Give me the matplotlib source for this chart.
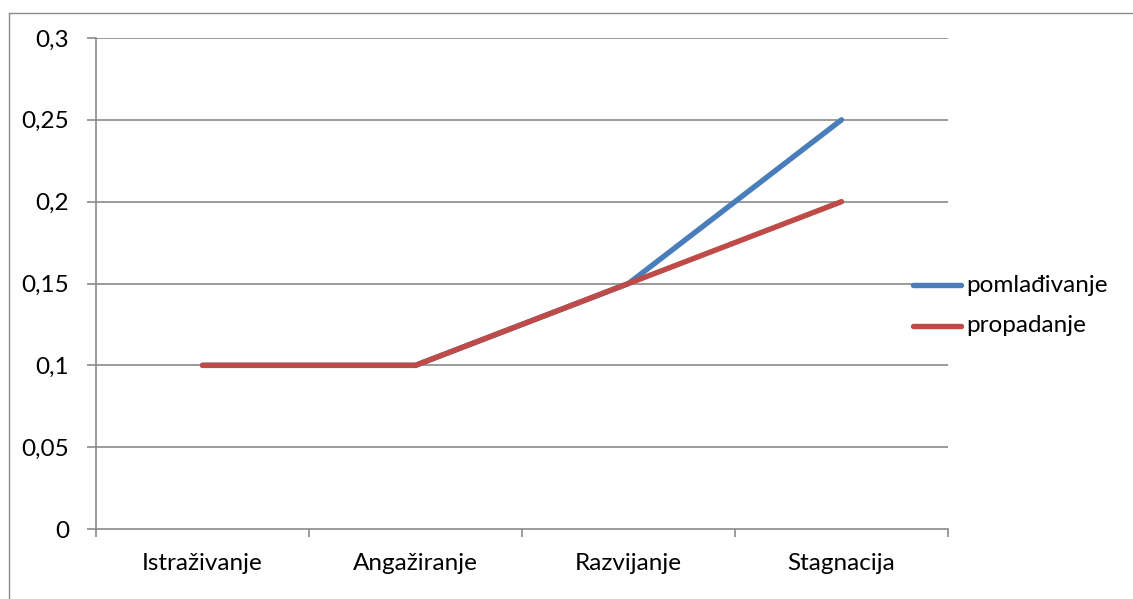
import matplotlib
matplotlib.use("Agg")
import matplotlib.pyplot as plt
from matplotlib.lines import Line2D

categories = ["Istraživanje", "Angažiranje", "Razvijanje", "Stagnacija"]
pomladjivanje = [0.1, 0.1, 0.15, 0.25]
propadanje = [0.1, 0.1, 0.15, 0.2]
yticks = [0, 0.05, 0.1, 0.15, 0.2, 0.25, 0.3]
ytick_labels = ["0", "0,05", "0,1", "0,15", "0,2", "0,25", "0,3"]

plt.rcParams['font.family'] = ['Lato', 'DejaVu Sans']

W, H = 1133, 599
fig = plt.figure(figsize=(W/100, H/100), dpi=100)
ax = fig.add_axes([96/W, 1 - 529/H, (948-96)/W, (529-38)/H])

grid_c = "#8a8a8a"
FS = 17.5
LW = 3.9
x = list(range(len(categories)))
ax.plot(x, pomladjivanje, color="#4A7EBB", lw=LW, solid_capstyle="round", zorder=3, label="pomlađivanje")
ax.plot(x, propadanje, color="#BE4B48", lw=LW, solid_capstyle="round", zorder=4, label="propadanje")

ax.set_xlim(-0.5, len(categories) - 0.5)
ax.set_ylim(0, 0.3)
ax.set_yticks(yticks)
ax.set_yticklabels(ytick_labels, fontsize=FS)
ax.set_xticks(x)
ax.set_xticklabels(categories, fontsize=FS)
ax.set_xticks([i - 0.5 for i in range(len(categories) + 1)], minor=True)
ax.tick_params(axis='x', which='major', length=0, pad=17)
ax.tick_params(axis='x', which='minor', length=6, color=grid_c, width=1.2)
ax.tick_params(axis='y', length=6.5, color=grid_c, width=1.2, pad=13)
for yv in yticks[1:]:
    ax.axhline(yv, color=grid_c, lw=1.2, zorder=1)
for s in ["top", "right"]:
    ax.spines[s].set_visible(False)
ax.spines["left"].set_color(grid_c)
ax.spines["bottom"].set_color(grid_c)
ax.spines["left"].set_linewidth(1.2)
ax.spines["bottom"].set_linewidth(1.2)

# legend drawn manually in figure coordinates
leg_y = [285, 326]
cols = ["#4A7EBB", "#BE4B48"]
labels = ["pomlađivanje", "propadanje"]
for yy, c, lab in zip(leg_y, cols, labels):
    fy = 1 - yy/H
    fig.add_artist(Line2D([913/W, 961/W], [fy, fy], color=c, lw=LW, solid_capstyle="round"))
    fig.text(966/W, fy, lab, fontsize=FS, va="center", ha="left")

# outer chart border (left and top visible)
fig.add_artist(Line2D([9/W, 9/W], [0, 1 - 13/H], color="#8a8a8a", lw=1))
fig.add_artist(Line2D([9/W, 1], [1 - 13/H, 1 - 13/H], color="#8a8a8a", lw=1))

fig.savefig("out.png", dpi=100)
